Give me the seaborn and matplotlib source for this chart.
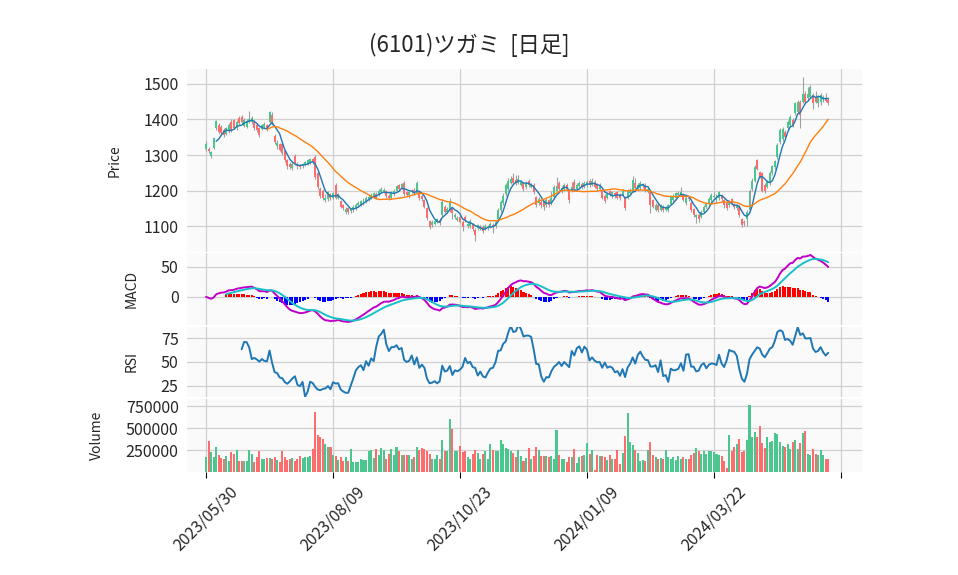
import numpy as np
import pandas as pd
import matplotlib
matplotlib.use('Agg')
import matplotlib.pyplot as plt
import seaborn as sns

title = '(6101)ツガミ  [日足]'
tick_labels = ['2023/05/30', '2023/08/09', '2023/10/23', '2024/01/09', '2024/03/22', '']

# daily candles, 2023/05/30 .. 2024/05
opens = [
    1318, 1318, 1298, 1320, 1375, 1384, 1380, 1370, 1360, 1367,
    1393, 1398, 1375, 1405, 1407, 1382, 1380, 1393, 1392, 1393,
    1384, 1375, 1374, 1379, 1384, 1393, 1412, 1354, 1325, 1330,
    1330, 1310, 1285, 1275, 1263, 1298, 1276, 1272, 1268, 1272,
    1276, 1280, 1288, 1295, 1250, 1205, 1200, 1172, 1175, 1190,
    1180, 1215, 1180, 1170, 1158, 1140, 1150, 1142, 1145, 1150,
    1158, 1160, 1165, 1168, 1175, 1180, 1183, 1190, 1188, 1196,
    1198, 1198, 1185, 1180, 1190, 1200, 1215, 1208, 1222, 1195,
    1188, 1195, 1202, 1192, 1196, 1185, 1172, 1150, 1114, 1102,
    1106, 1112, 1118, 1130, 1155, 1140, 1145, 1150, 1125, 1118,
    1125, 1112, 1125, 1100, 1100, 1105, 1090, 1095, 1092, 1098,
    1092, 1095, 1098, 1104, 1100, 1120, 1145, 1165, 1190, 1205,
    1222, 1235, 1230, 1222, 1216, 1220, 1210, 1228, 1210, 1215,
    1182, 1165, 1168, 1168, 1160, 1172, 1165, 1182, 1200, 1220,
    1198, 1205, 1215, 1200, 1200, 1225, 1205, 1212, 1218, 1210,
    1215, 1228, 1215, 1225, 1215, 1205, 1200, 1185, 1180, 1198,
    1185, 1192, 1195, 1190, 1188, 1182, 1180, 1193, 1200, 1220,
    1204, 1206, 1212, 1215, 1196, 1195, 1172, 1146, 1160, 1146,
    1155, 1146, 1145, 1162, 1172, 1178, 1188, 1190, 1190, 1164,
    1180, 1165, 1148, 1126, 1132, 1126, 1140, 1155, 1165, 1172,
    1182, 1168, 1178, 1185, 1172, 1165, 1158, 1175, 1162, 1150,
    1155, 1120, 1112, 1120, 1145, 1205, 1228, 1285, 1252, 1248,
    1215, 1210, 1220, 1248, 1266, 1295, 1337, 1346, 1365, 1375,
    1384, 1398, 1417, 1422, 1450, 1450, 1472, 1460, 1464, 1468,
    1462, 1445, 1450, 1458, 1460, 1455,
]
highs = [
    1338, 1322, 1312, 1352, 1398, 1390, 1385, 1375, 1380, 1390,
    1400, 1402, 1398, 1410, 1412, 1403, 1400, 1425, 1410, 1398,
    1388, 1380, 1388, 1392, 1388, 1425, 1420, 1360, 1342, 1335,
    1335, 1313, 1288, 1280, 1280, 1302, 1280, 1276, 1278, 1284,
    1290, 1292, 1292, 1300, 1255, 1210, 1203, 1190, 1200, 1194,
    1196, 1220, 1194, 1174, 1162, 1155, 1153, 1152, 1160, 1165,
    1170, 1174, 1178, 1184, 1188, 1192, 1196, 1195, 1204, 1210,
    1208, 1202, 1190, 1200, 1205, 1216, 1218, 1222, 1226, 1200,
    1198, 1205, 1206, 1226, 1200, 1190, 1176, 1154, 1118, 1116,
    1118, 1124, 1122, 1175, 1160, 1155, 1180, 1155, 1138, 1128,
    1130, 1116, 1130, 1112, 1120, 1110, 1094, 1106, 1104, 1102,
    1106, 1104, 1112, 1110, 1118, 1150, 1172, 1192, 1222, 1234,
    1240, 1250, 1245, 1245, 1230, 1225, 1228, 1232, 1222, 1220,
    1186, 1182, 1172, 1172, 1178, 1176, 1200, 1215, 1238, 1228,
    1212, 1220, 1220, 1205, 1225, 1232, 1222, 1226, 1224, 1226,
    1230, 1232, 1234, 1230, 1220, 1220, 1205, 1190, 1195, 1202,
    1200, 1196, 1198, 1194, 1205, 1186, 1205, 1208, 1240, 1235,
    1220, 1226, 1222, 1220, 1210, 1200, 1176, 1165, 1164, 1162,
    1160, 1156, 1162, 1186, 1190, 1196, 1198, 1210, 1194, 1185,
    1184, 1170, 1152, 1134, 1136, 1145, 1158, 1168, 1182, 1192,
    1195, 1190, 1200, 1190, 1176, 1170, 1172, 1178, 1166, 1162,
    1160, 1124, 1116, 1145, 1205, 1235, 1272, 1290, 1256, 1252,
    1220, 1230, 1254, 1272, 1286, 1335, 1376, 1380, 1370, 1398,
    1412, 1404, 1450, 1456, 1456, 1520, 1480, 1490, 1496, 1475,
    1480, 1470, 1474, 1470, 1475, 1462,
]
lows = [
    1312, 1305, 1292, 1316, 1370, 1360, 1358, 1350, 1356, 1362,
    1365, 1372, 1370, 1385, 1388, 1378, 1376, 1390, 1388, 1370,
    1365, 1350, 1370, 1375, 1368, 1390, 1385, 1332, 1318, 1310,
    1300, 1280, 1262, 1260, 1258, 1272, 1262, 1260, 1264, 1268,
    1272, 1276, 1275, 1232, 1205, 1178, 1172, 1168, 1170, 1172,
    1175, 1175, 1176, 1150, 1145, 1135, 1134, 1138, 1140, 1146,
    1154, 1156, 1160, 1164, 1170, 1176, 1180, 1176, 1184, 1192,
    1194, 1180, 1172, 1176, 1186, 1196, 1200, 1204, 1185, 1185,
    1180, 1192, 1188, 1190, 1172, 1170, 1150, 1118, 1092, 1098,
    1102, 1108, 1104, 1126, 1136, 1136, 1140, 1120, 1120, 1114,
    1108, 1085, 1112, 1096, 1094, 1086, 1058, 1090, 1088, 1080,
    1088, 1090, 1094, 1080, 1096, 1116, 1140, 1160, 1186, 1200,
    1218, 1218, 1215, 1218, 1212, 1200, 1205, 1210, 1206, 1190,
    1155, 1160, 1150, 1145, 1155, 1155, 1160, 1178, 1196, 1200,
    1194, 1200, 1200, 1166, 1196, 1200, 1200, 1208, 1205, 1206,
    1210, 1210, 1212, 1206, 1200, 1200, 1175, 1165, 1176, 1185,
    1180, 1180, 1175, 1172, 1184, 1145, 1176, 1190, 1195, 1200,
    1200, 1202, 1208, 1195, 1192, 1137, 1150, 1142, 1140, 1142,
    1140, 1142, 1140, 1158, 1168, 1174, 1184, 1186, 1170, 1160,
    1170, 1140, 1126, 1110, 1112, 1122, 1136, 1150, 1160, 1168,
    1178, 1165, 1174, 1170, 1152, 1146, 1154, 1160, 1148, 1146,
    1125, 1098, 1100, 1100, 1140, 1200, 1224, 1258, 1235, 1195,
    1192, 1206, 1216, 1244, 1260, 1290, 1332, 1340, 1348, 1370,
    1380, 1380, 1412, 1418, 1375, 1445, 1444, 1455, 1460, 1430,
    1445, 1435, 1440, 1450, 1448, 1440,
]
closes = [
    1332, 1310, 1308, 1348, 1395, 1364, 1363, 1355, 1375, 1385,
    1370, 1376, 1393, 1389, 1392, 1398, 1395, 1402, 1403, 1375,
    1370, 1356, 1384, 1388, 1372, 1420, 1390, 1337, 1335, 1314,
    1305, 1285, 1270, 1266, 1276, 1278, 1268, 1265, 1274, 1280,
    1285, 1288, 1280, 1238, 1210, 1185, 1180, 1180, 1195, 1178,
    1192, 1180, 1190, 1155, 1150, 1148, 1140, 1148, 1155, 1160,
    1165, 1170, 1172, 1180, 1183, 1188, 1192, 1180, 1200, 1205,
    1202, 1185, 1178, 1195, 1200, 1212, 1205, 1218, 1190, 1188,
    1196, 1200, 1193, 1220, 1178, 1175, 1154, 1122, 1098, 1112,
    1114, 1120, 1108, 1168, 1140, 1149, 1168, 1138, 1132, 1122,
    1112, 1098, 1118, 1106, 1115, 1092, 1075, 1102, 1098, 1085,
    1100, 1098, 1107, 1100, 1112, 1145, 1168, 1186, 1215, 1228,
    1232, 1222, 1220, 1233, 1225, 1205, 1222, 1215, 1216, 1195,
    1160, 1177, 1158, 1155, 1172, 1160, 1180, 1210, 1212, 1205,
    1206, 1215, 1205, 1172, 1210, 1205, 1215, 1220, 1210, 1221,
    1225, 1215, 1228, 1210, 1205, 1215, 1180, 1170, 1190, 1190,
    1196, 1185, 1180, 1178, 1200, 1150, 1200, 1202, 1229, 1206,
    1215, 1220, 1215, 1200, 1205, 1160, 1155, 1160, 1145, 1158,
    1145, 1150, 1158, 1182, 1186, 1192, 1192, 1196, 1174, 1180,
    1176, 1145, 1130, 1130, 1120, 1140, 1154, 1163, 1177, 1187,
    1186, 1186, 1196, 1175, 1158, 1150, 1168, 1165, 1153, 1158,
    1130, 1102, 1108, 1140, 1200, 1228, 1265, 1262, 1240, 1200,
    1198, 1225, 1248, 1268, 1282, 1328, 1370, 1374, 1352, 1393,
    1407, 1384, 1445, 1450, 1412, 1472, 1450, 1472, 1492, 1446,
    1450, 1464, 1468, 1462, 1452, 1445,
]
# volume in thousands of shares
volume_k = [
    167, 352, 227, 170, 280, 189, 155, 144, 182, 129,
    231, 208, 250, 129, 125, 125, 125, 250, 205, 110,
    167, 239, 152, 152, 155, 155, 144, 167, 136, 110,
    235, 174, 136, 152, 159, 125, 152, 182, 159, 174,
    174, 182, 261, 682, 417, 402, 379, 318, 288, 280,
    189, 182, 136, 174, 129, 174, 129, 258, 114, 114,
    114, 148, 136, 136, 239, 250, 155, 265, 189, 269,
    250, 152, 205, 258, 189, 280, 235, 189, 189, 189,
    197, 152, 174, 288, 250, 273, 258, 235, 205, 144,
    144, 197, 152, 364, 235, 239, 598, 485, 235, 242,
    295, 227, 242, 167, 152, 205, 250, 220, 144, 205,
    235, 152, 318, 250, 235, 242, 364, 318, 273, 265,
    235, 212, 167, 250, 182, 129, 155, 269, 144, 182,
    288, 250, 182, 182, 182, 174, 182, 144, 477, 189,
    152, 144, 114, 167, 174, 258, 98, 174, 182, 189,
    326, 205, 250, 23, 197, 182, 182, 167, 136, 197,
    152, 144, 250, 91, 212, 409, 667, 341, 311, 250,
    212, 129, 136, 129, 250, 337, 189, 174, 152, 159,
    152, 250, 167, 144, 174, 136, 182, 152, 174, 152,
    152, 197, 220, 269, 242, 205, 235, 205, 242, 242,
    227, 205, 189, 182, 129, 42, 420, 242, 288, 318,
    375, 231, 242, 364, 758, 402, 455, 402, 523, 333,
    269, 394, 345, 356, 447, 432, 345, 295, 288, 318,
    265, 341, 364, 258, 333, 447, 466, 205, 197, 258,
    205, 189, 250, 197, 144, 152,
]

df = pd.DataFrame({'Open': opens, 'High': highs, 'Low': lows,
                   'Close': closes, 'Volume': np.array(volume_k) * 1000})
df['x'] = np.arange(len(df))
df['MA5'] = df['Close'].rolling(5).mean()
df['MA25'] = df['Close'].rolling(25).mean()

# MACD (12, 26, 9)
ema12 = df['Close'].ewm(span=12, adjust=False).mean()
ema26 = df['Close'].ewm(span=26, adjust=False).mean()
df['MACD'] = ema12 - ema26
df['Signal'] = df['MACD'].ewm(span=9, adjust=False).mean()
df['Hist'] = df['MACD'] - df['Signal']
df.loc[df.index < 8, ['Signal', 'Hist']] = np.nan

# RSI 14
delta = df['Close'].diff()
gain = delta.clip(lower=0).rolling(14).mean()
loss = (-delta.clip(upper=0)).rolling(14).mean()
df['RSI'] = 100 - 100 / (1 + gain / loss)

sns.set_theme(style='whitegrid')
plt.rcParams['font.family'] = ['Noto Sans CJK JP', 'DejaVu Sans']

up_col, down_col = '#4bc68e', '#fd6d6e'
up = df['Close'] >= df['Open']
colors = np.where(up, up_col, down_col)

fig = plt.figure(figsize=(9.58, 5.75), dpi=100)
left, width = 0.1952, 0.7046
ax1 = fig.add_axes([left, 0.5617, width, 0.3183])
ax2 = fig.add_axes([left, 0.4348, width, 0.1252], sharex=ax1)
ax3 = fig.add_axes([left, 0.3096, width, 0.1217], sharex=ax1)
ax4 = fig.add_axes([left, 0.1791, width, 0.1270], sharex=ax1)
axes = [ax1, ax2, ax3, ax4]

# candles
ax1.vlines(df['x'], df['Low'], df['High'], color='#a0a0a0', lw=0.8, zorder=2)
ax1.bar(df['x'], (df['Close'] - df['Open']).abs().clip(lower=1.5),
        bottom=df[['Open', 'Close']].min(axis=1), width=0.78,
        color=colors, lw=0, zorder=3)
sns.lineplot(data=df, x='x', y='MA5', ax=ax1, color='#1f77b4', lw=1.0, zorder=4)
sns.lineplot(data=df, x='x', y='MA25', ax=ax1, color='#ff7f0e', lw=1.0, zorder=4)
ax1.set_ylim(1027, 1542)
ax1.set_yticks([1100, 1200, 1300, 1400, 1500])
ax1.set_ylabel('Price', labelpad=16)

# MACD
hist_cols = np.where(df['Hist'] >= 0, '#ff0000', '#0000ff')
ax2.bar(df['x'], df['Hist'], width=0.8, color=hist_cols, lw=0, zorder=2)
sns.lineplot(data=df, x='x', y='MACD', ax=ax2, color='#c000c8', lw=1.4, zorder=3)
sns.lineplot(data=df, x='x', y='Signal', ax=ax2, color='#18c0c8', lw=1.4, zorder=3)
ax2.set_ylim(-47, 73)
ax2.set_yticks([0, 50])
ax2.set_ylabel('MACD', labelpad=16)

# RSI
sns.lineplot(data=df, x='x', y='RSI', ax=ax3, color='#1f77b4', lw=1.4)
ax3.set_ylim(13.5, 86.5)
ax3.set_yticks([25, 50, 75])
ax3.set_ylabel('RSI', labelpad=16)

# volume
ax4.bar(df['x'], df['Volume'], width=0.8, color=colors, lw=0, zorder=2)
ax4.set_ylim(0, 830000)
ax4.set_yticks([250000, 500000, 750000])
ax4.set_yticklabels(['250000', '500000', '750000'])
ax4.set_ylabel('Volume', labelpad=16)

for ax in axes:
    ax.set_facecolor('#fafafa')
    ax.grid(True, color='#d0d0d0', lw=0.9)
    ax.set_axisbelow(True)
    for s in ax.spines.values():
        s.set_visible(False)
    ax.set_xlim(-7.5, 258.3)
    ax.tick_params(axis='y', length=0, labelsize=11.5, pad=6)
    ax.yaxis.label.set_size(10)
    if ax is not ax4:
        ax.tick_params(axis='x', length=0, labelbottom=False)
    ax.set_xlabel('')

ax4.set_xticks(range(0, 251, 50))
ax4.set_xticklabels(tick_labels, rotation=45, ha='center')
ax4.tick_params(axis='x', length=4, width=0.8, color='black', bottom=True,
                labelsize=11.5, pad=4)

fig.text(0.49, 0.922, title, ha='center', va='center', fontsize=16)

fig.savefig('out.png', dpi=100, facecolor='white')
